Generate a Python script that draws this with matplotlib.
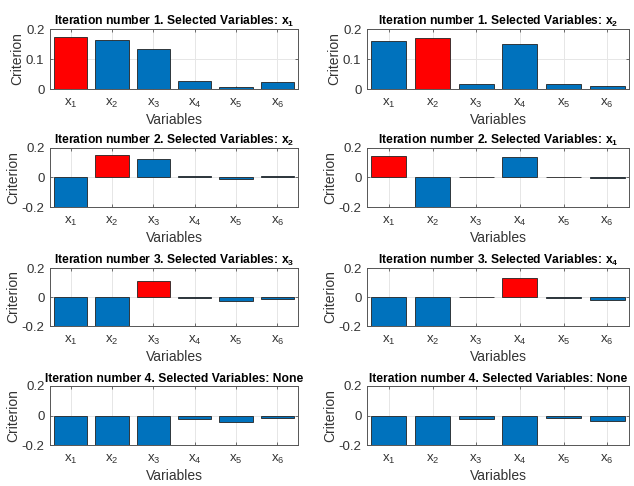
import matplotlib
matplotlib.use("Agg")
import matplotlib.pyplot as plt
import numpy as np

plt.rcParams['font.family'] = ['Liberation Sans', 'DejaVu Sans']
plt.rcParams['mathtext.fontset'] = 'custom'
plt.rcParams['mathtext.rm'] = 'Liberation Sans'
plt.rcParams['mathtext.it'] = 'Liberation Sans'
plt.rcParams['mathtext.bf'] = 'Liberation Sans:bold'

variables = ['x1', 'x2', 'x3', 'x4', 'x5', 'x6']
tick_labels = [r'$\mathregular{x_%d}$' % (i + 1) for i in range(6)]

# Left column (run A) and right column (run B), one list per iteration
run_a = [
    [0.173, 0.163, 0.133, 0.026, 0.007, 0.022],
    [-0.30, 0.155, 0.125, 0.011, -0.012, 0.008],
    [-0.30, -0.30, 0.108, -0.004, -0.027, -0.012],
    [-0.30, -0.30, -0.30, -0.025, -0.045, -0.018],
]
run_b = [
    [0.160, 0.170, 0.017, 0.151, 0.017, 0.010],
    [0.143, -0.30, 0.005, 0.139, 0.003, -0.003],
    [-0.30, -0.30, -0.003, 0.131, -0.010, -0.021],
    [-0.30, -0.30, -0.027, -0.30, -0.018, -0.034],
]
selected_a = ['x1', 'x2', 'x3', None]
selected_b = ['x2', 'x1', 'x4', None]

blue = '#0072BD'
red = '#FF0000'

W, H = 634, 486
fig = plt.figure(figsize=(W / 100, H / 100), dpi=100)

cols = [(50, 298), (367, 629)]
rows = [(29, 89), (148, 207), (268, 326), (386, 445)]


def sel_label(s):
    if s is None:
        return 'None'
    return r'$\mathbf{x_{%s}}$' % s[1:]


for c, (run, sel) in enumerate([(run_a, selected_a), (run_b, selected_b)]):
    x0, x1 = cols[c]
    for r, (yt, yb) in enumerate(rows):
        ax = fig.add_axes([x0 / W, 1 - yb / H, (x1 - x0) / W, (yb - yt) / H])
        vals = run[r]
        pos = np.arange(1, 7)
        colors = [red if (sel[r] == v) else blue for v in variables]
        ax.bar(pos, vals, width=0.8, color=colors, edgecolor='#222222', linewidth=0.6, zorder=3)
        ax.set_xlim(0.5, 6.5)
        if r == 0:
            ax.set_ylim(0, 0.2)
            ax.set_yticks([0, 0.1, 0.2])
            ax.set_yticklabels(['0', '0.1', '0.2'])
        else:
            ax.set_ylim(-0.2, 0.2)
            ax.set_yticks([-0.2, 0, 0.2])
            ax.set_yticklabels(['-0.2', '0', '0.2'])
        ax.set_xticks(pos)
        ax.set_xticklabels(tick_labels)
        ax.grid(True, color='#e6e6e6', linewidth=0.7, zorder=0)
        ax.tick_params(direction='in', length=2.5, width=0.6, colors='#555555',
                       labelcolor='#333333', labelsize=9.5, top=True, right=True)
        ax.tick_params(axis='x', pad=6)
        ax.tick_params(axis='y', pad=4)
        for s in ax.spines.values():
            s.set_color('#555555')
            s.set_linewidth(0.7)
        ax.set_xlabel('Variables', fontsize=10, color='#333333', labelpad=2)
        ax.set_ylabel('Criterion', fontsize=10, color='#333333', labelpad=1)
        ax.set_title('Iteration number %d. Selected Variables: %s' % (r + 1, sel_label(sel[r])),
                     fontsize=8.7, fontweight='bold', pad=3)

fig.savefig('out.png', dpi=100)
